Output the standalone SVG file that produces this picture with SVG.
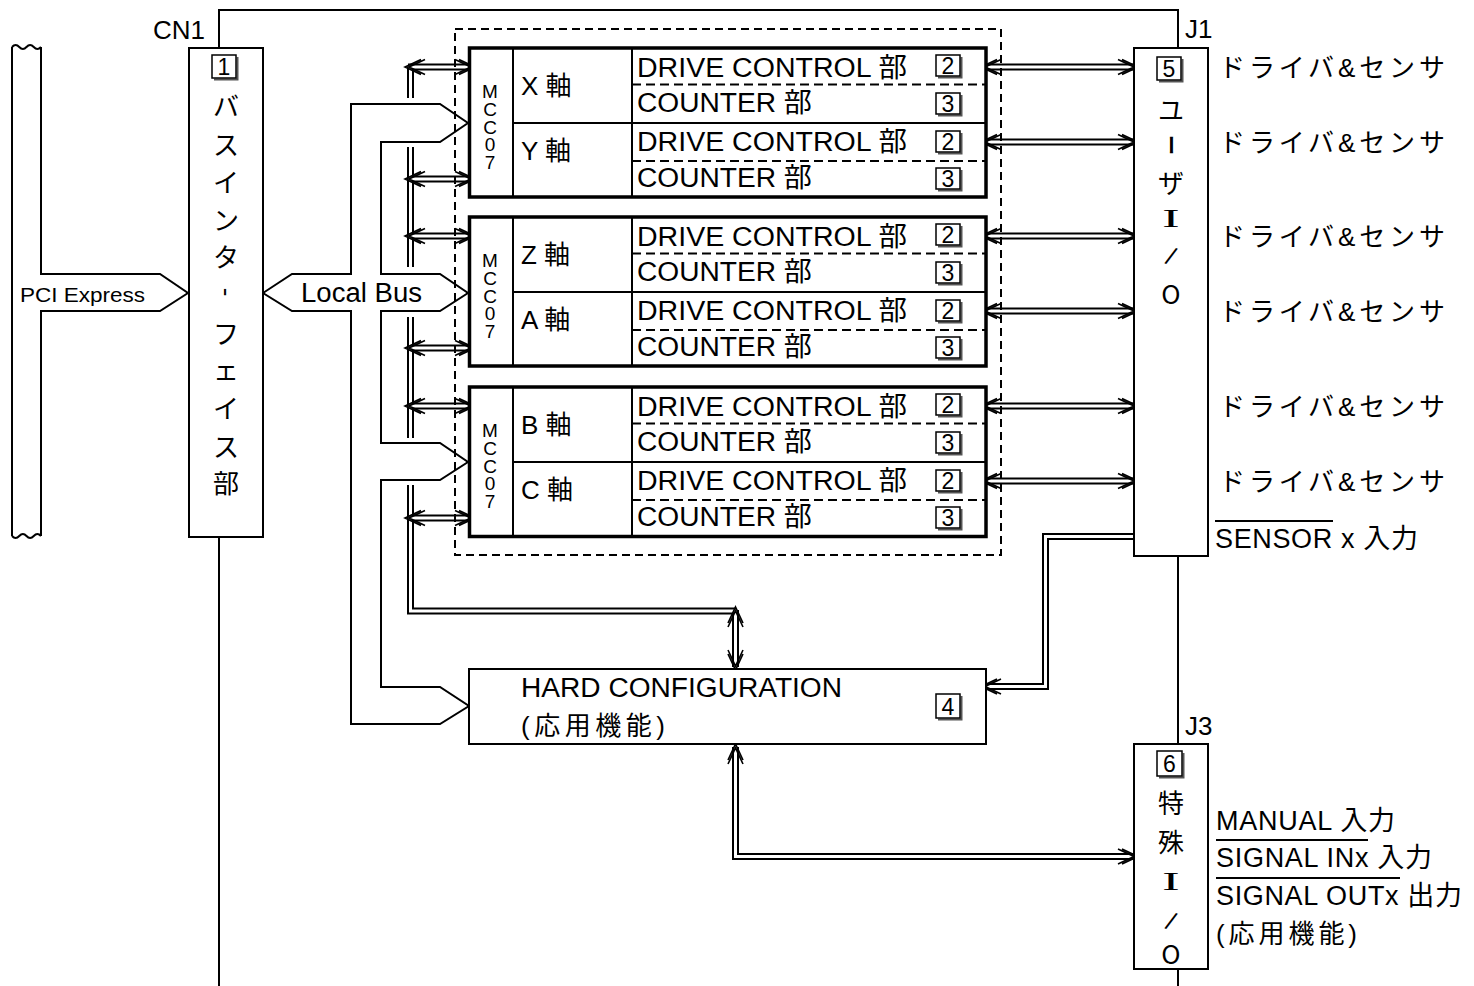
<svg xmlns="http://www.w3.org/2000/svg" width="1474" height="986" viewBox="0 0 1474 986">
<style>
.ln{fill:none;stroke:#000;stroke-width:2}
.bx{fill:#fff;stroke:#000;stroke-width:2}
.tk{fill:#fff;stroke:#000;stroke-width:3.5}
.dl{fill:none;stroke:#000;stroke-width:2;stroke-dasharray:9 5}
.dbB{fill:none;stroke:#000;stroke-width:7}
.dbW{fill:none;stroke:#fff;stroke-width:3}
.ah{fill:none;stroke:#000;stroke-width:1.6}
.sh{fill:none;stroke:#555;stroke-width:2}
.nb{fill:#fff;stroke:#000;stroke-width:1.5}
text{font-family:"Liberation Sans","Noto Sans CJK JP",sans-serif;font-size:26px;fill:#000}
.t27{font-size:27px}
.v{font-family:"Noto Sans CJK JP","Liberation Sans",sans-serif;text-anchor:middle;dominant-baseline:central}
.mcc{font-size:19px;writing-mode:vertical-rl;text-orientation:upright;letter-spacing:-3.2px}
.n{text-anchor:middle;font-size:23px}
.serifI{font-family:"Liberation Serif",serif;text-anchor:middle}
.sl{text-anchor:middle;font-size:25px}
</style>
<defs>
<path id="ah" class="ah" d="M-16,-7.5 L0,0 L-16,7.5 M-20,-7.5 L-4,0 L-20,7.5"/>
</defs>

<!-- connectors -->
<g id="connectors">
  <path class="ln" d="M219,48 V10 H1178 V48"/>
  <path class="ln" d="M219,537 V986"/>
  <path class="ln" d="M1178,556 V744"/>
  <path class="ln" d="M1178,969 V986"/>
  <!-- PCI Express bus -->
  <path class="ln" d="M12,47 V536"/>
  <path class="ln" d="M41,47 V274 H160 L188,293 L160,311 H41 V536"/>
  <path class="ln" d="M12,47 q3.6,-4 7.25,0 t7.25,0 t7.25,0 t7.25,0"/>
  <path class="ln" d="M12,536 q3.6,4 7.25,0 t7.25,0 t7.25,0 t7.25,0"/>
  <!-- Local bus -->
  <polygon class="ln" points="263,293 292,274 351,274 351,104 440,104 468,123 440,142 381,142 381,274 440,274 468,293 440,311 381,311 381,443 440,443 468,462 440,480 381,480 381,687 440,687 469,706 440,724 351,724 351,311 292,311"/>
  <!-- double line connectors -->
  <g id="dbl">
    <path class="dbB" d="M410.5,67 V98 M410.5,147 V267 M410.5,317 V438 M410.5,485 V611 H735.5"/>
    <path class="dbB" d="M408,67 H472 M408,179 H472 M408,236 H472 M408,348 H472 M408,406 H472 M408,518 H472"/>
    <path class="dbB" d="M984,67 H1135 M984,142 H1135 M984,236 H1135 M984,311 H1135 M984,406 H1135 M984,481 H1135"/>
    <path class="dbB" d="M735.5,610 V667"/>
    <path class="dbB" d="M735.5,747 V856.5 H1135"/>
    <path class="dbB" d="M1134,536.5 H1045.5 V686.5 H984"/>
    <path class="dbW" d="M410.5,67 V98 M410.5,147 V267 M410.5,317 V438 M410.5,485 V611 H735.5"/>
    <path class="dbW" d="M408,67 H472 M408,179 H472 M408,236 H472 M408,348 H472 M408,406 H472 M408,518 H472"/>
    <path class="dbW" d="M984,67 H1135 M984,142 H1135 M984,236 H1135 M984,311 H1135 M984,406 H1135 M984,481 H1135"/>
    <path class="dbW" d="M735.5,610 V667"/>
    <path class="dbW" d="M735.5,747 V856.5 H1135"/>
    <path class="dbW" d="M1134,536.5 H1045.5 V686.5 H984"/>
  </g>
  <g id="arrowheads">
    <use href="#ah" transform="translate(405,67) rotate(180)"/>
    <use href="#ah" transform="translate(475,67)"/>
    <use href="#ah" transform="translate(405,179) rotate(180)"/>
    <use href="#ah" transform="translate(475,179)"/>
    <use href="#ah" transform="translate(405,236) rotate(180)"/>
    <use href="#ah" transform="translate(475,236)"/>
    <use href="#ah" transform="translate(405,348) rotate(180)"/>
    <use href="#ah" transform="translate(475,348)"/>
    <use href="#ah" transform="translate(405,406) rotate(180)"/>
    <use href="#ah" transform="translate(475,406)"/>
    <use href="#ah" transform="translate(405,518) rotate(180)"/>
    <use href="#ah" transform="translate(475,518)"/>
    <use href="#ah" transform="translate(981,67) rotate(180)"/>
    <use href="#ah" transform="translate(1138,67)"/>
    <use href="#ah" transform="translate(981,142) rotate(180)"/>
    <use href="#ah" transform="translate(1138,142)"/>
    <use href="#ah" transform="translate(981,236) rotate(180)"/>
    <use href="#ah" transform="translate(1138,236)"/>
    <use href="#ah" transform="translate(981,311) rotate(180)"/>
    <use href="#ah" transform="translate(1138,311)"/>
    <use href="#ah" transform="translate(981,406) rotate(180)"/>
    <use href="#ah" transform="translate(1138,406)"/>
    <use href="#ah" transform="translate(981,481) rotate(180)"/>
    <use href="#ah" transform="translate(1138,481)"/>
    <use href="#ah" transform="translate(735.5,607) rotate(-90)"/>
    <use href="#ah" transform="translate(735.5,670) rotate(90)"/>
    <use href="#ah" transform="translate(735.5,744) rotate(-90)"/>
    <use href="#ah" transform="translate(1138,856.5)"/>
    <use href="#ah" transform="translate(981,686.5) rotate(180)"/>
  </g>
</g>

<!-- labels -->
<g id="labels">
  <text x="153" y="39">CN1</text>
  <text x="1185" y="38">J1</text>
  <text x="1185" y="735">J3</text>
  <text x="20" y="302" style="font-size:21px" textLength="125" lengthAdjust="spacingAndGlyphs">PCI Express</text>
  <text x="301" y="302" class="t27" textLength="121" lengthAdjust="spacingAndGlyphs">Local Bus</text>
  <text x="1219" y="77" textLength="226">ドライバ&amp;センサ</text>
  <text x="1219" y="152" textLength="226">ドライバ&amp;センサ</text>
  <text x="1219" y="246" textLength="226">ドライバ&amp;センサ</text>
  <text x="1219" y="321" textLength="226">ドライバ&amp;センサ</text>
  <text x="1219" y="416" textLength="226">ドライバ&amp;センサ</text>
  <text x="1219" y="491" textLength="226">ドライバ&amp;センサ</text>
  <line class="ln" x1="1215" y1="521" x2="1333" y2="521"/>
  <text x="1215" y="548" class="t27" textLength="203">SENSOR x 入力</text>
  <text x="1216" y="830" class="t27" textLength="179">MANUAL 入力</text>
  <line class="ln" x1="1216" y1="840" x2="1368" y2="840"/>
  <text x="1216" y="867" class="t27" textLength="216">SIGNAL INx 入力</text>
  <line class="ln" x1="1216" y1="878" x2="1400" y2="878"/>
  <text x="1216" y="905" class="t27" textLength="246">SIGNAL OUTx 出力</text>
  <text x="1216" y="943" textLength="141">(応用機能)</text>
</g>

<!-- dashed MCC07 area -->
<rect id="mcc-area" x="455" y="29" width="546" height="526" fill="none" stroke="#000" stroke-width="2" stroke-dasharray="8 5"/>

<!-- Node 1: bus interface -->
<g id="bus-interface">
  <rect class="bx" x="189" y="48" width="74" height="489"/>
  <g><path class="sh" d="M237.5,57 V79.5 H214"/><rect class="nb" x="212" y="55" width="24" height="23"/><text class="n" x="224" y="75">1</text></g>
  <text class="v" x="226" y="104">バ</text>
  <text class="v" x="226" y="143">ス</text>
  <text class="v" x="226" y="180">イ</text>
  <text class="v" x="226" y="218">ン</text>
  <text class="v" x="226" y="255">タ</text>
  <text x="226" y="300" text-anchor="middle" transform="rotate(90 226 292)">-</text>
  <text class="v" x="226" y="332">フ</text>
  <text class="v" x="226" y="368">ェ</text>
  <text class="v" x="226" y="406">イ</text>
  <text class="v" x="226" y="445">ス</text>
  <text class="v" x="226" y="481">部</text>
</g>

<!-- MCC07 X/Y -->
<g id="mcc-xy">
  <rect class="tk" x="469.5" y="48" width="516.5" height="149"/>
  <path class="ln" d="M513,48 V197 M632,48 V197 M513,123 H986"/>
  <path class="dl" d="M632,84.5 H986 M632,161 H986"/>
  <text class="mcc" x="490" y="81">MCC07</text>
  <text x="521" y="95">X 軸</text>
  <text x="521" y="160">Y 軸</text>
  <text x="637" y="77" class="t27" textLength="270" lengthAdjust="spacingAndGlyphs">DRIVE CONTROL 部</text>
  <text x="637" y="112" class="t27" textLength="175" lengthAdjust="spacingAndGlyphs">COUNTER 部</text>
  <text x="637" y="151" class="t27" textLength="270" lengthAdjust="spacingAndGlyphs">DRIVE CONTROL 部</text>
  <text x="637" y="187" class="t27" textLength="175" lengthAdjust="spacingAndGlyphs">COUNTER 部</text>
  <g><path class="sh" d="M961.5,57 V77.5 H938"/><rect class="nb" x="936" y="55" width="24" height="21"/><text class="n" x="948" y="74">2</text></g>
  <g><path class="sh" d="M961.5,95 V115.5 H938"/><rect class="nb" x="936" y="93" width="24" height="21"/><text class="n" x="948" y="112">3</text></g>
  <g><path class="sh" d="M961.5,133 V153.5 H938"/><rect class="nb" x="936" y="131" width="24" height="21"/><text class="n" x="948" y="150">2</text></g>
  <g><path class="sh" d="M961.5,170 V190.5 H938"/><rect class="nb" x="936" y="168" width="24" height="21"/><text class="n" x="948" y="187">3</text></g>
</g>

<!-- MCC07 Z/A -->
<g id="mcc-za">
  <rect class="tk" x="469.5" y="217" width="516.5" height="149"/>
  <path class="ln" d="M513,217 V366 M632,217 V366 M513,292 H986"/>
  <path class="dl" d="M632,253.5 H986 M632,330 H986"/>
  <text class="mcc" x="490" y="250">MCC07</text>
  <text x="521" y="264">Z 軸</text>
  <text x="521" y="329">A 軸</text>
  <text x="637" y="246" class="t27" textLength="270" lengthAdjust="spacingAndGlyphs">DRIVE CONTROL 部</text>
  <text x="637" y="281" class="t27" textLength="175" lengthAdjust="spacingAndGlyphs">COUNTER 部</text>
  <text x="637" y="320" class="t27" textLength="270" lengthAdjust="spacingAndGlyphs">DRIVE CONTROL 部</text>
  <text x="637" y="356" class="t27" textLength="175" lengthAdjust="spacingAndGlyphs">COUNTER 部</text>
  <g><path class="sh" d="M961.5,226 V246.5 H938"/><rect class="nb" x="936" y="224" width="24" height="21"/><text class="n" x="948" y="243">2</text></g>
  <g><path class="sh" d="M961.5,264 V284.5 H938"/><rect class="nb" x="936" y="262" width="24" height="21"/><text class="n" x="948" y="281">3</text></g>
  <g><path class="sh" d="M961.5,302 V322.5 H938"/><rect class="nb" x="936" y="300" width="24" height="21"/><text class="n" x="948" y="319">2</text></g>
  <g><path class="sh" d="M961.5,339 V359.5 H938"/><rect class="nb" x="936" y="337" width="24" height="21"/><text class="n" x="948" y="356">3</text></g>
</g>

<!-- MCC07 B/C -->
<g id="mcc-bc">
  <rect class="tk" x="469.5" y="387" width="516.5" height="149.5"/>
  <path class="ln" d="M513,387 V536.5 M632,387 V536.5 M513,462 H986"/>
  <path class="dl" d="M632,423.5 H986 M632,500 H986"/>
  <text class="mcc" x="490" y="420">MCC07</text>
  <text x="521" y="434">B 軸</text>
  <text x="521" y="499">C 軸</text>
  <text x="637" y="416" class="t27" textLength="270" lengthAdjust="spacingAndGlyphs">DRIVE CONTROL 部</text>
  <text x="637" y="451" class="t27" textLength="175" lengthAdjust="spacingAndGlyphs">COUNTER 部</text>
  <text x="637" y="490" class="t27" textLength="270" lengthAdjust="spacingAndGlyphs">DRIVE CONTROL 部</text>
  <text x="637" y="526" class="t27" textLength="175" lengthAdjust="spacingAndGlyphs">COUNTER 部</text>
  <g><path class="sh" d="M961.5,396 V416.5 H938"/><rect class="nb" x="936" y="394" width="24" height="21"/><text class="n" x="948" y="413">2</text></g>
  <g><path class="sh" d="M961.5,434 V454.5 H938"/><rect class="nb" x="936" y="432" width="24" height="21"/><text class="n" x="948" y="451">3</text></g>
  <g><path class="sh" d="M961.5,472 V492.5 H938"/><rect class="nb" x="936" y="470" width="24" height="21"/><text class="n" x="948" y="489">2</text></g>
  <g><path class="sh" d="M961.5,509 V529.5 H938"/><rect class="nb" x="936" y="507" width="24" height="21"/><text class="n" x="948" y="526">3</text></g>
</g>

<!-- HARD CONFIGURATION -->
<g id="hard-config">
  <rect class="bx" x="469" y="669" width="517" height="75"/>
  <text x="521" y="697" class="t27" textLength="321" lengthAdjust="spacingAndGlyphs">HARD CONFIGURATION</text>
  <text x="521" y="735" textLength="144">(応用機能)</text>
  <g><path class="sh" d="M961.5,696 V719.5 H938"/><rect class="nb" x="936" y="694" width="24" height="24"/><text class="n" x="948" y="715">4</text></g>
</g>

<!-- J1 user I/O -->
<g id="user-io">
  <rect class="bx" x="1134" y="48" width="74" height="508"/>
  <g><path class="sh" d="M1182.5,59 V81.5 H1159"/><rect class="nb" x="1157" y="57" width="24" height="23"/><text class="n" x="1169" y="77">5</text></g>
  <text class="v" x="1171" y="108">ユ</text>
  <text class="v" x="1171" y="145" style="font-size:20px;font-weight:bold" transform="rotate(90 1171 145)">ー</text>
  <text class="v" x="1171" y="181">ザ</text>
  <text class="serifI" x="0" y="0" transform="translate(1171,227) scale(2,1)">I</text>
  <text class="sl" x="1171" y="265" transform="rotate(22 1171 256)">/</text>
  <text class="v" x="1171" y="292">O</text>
</g>

<!-- J3 special I/O -->
<g id="special-io">
  <rect class="bx" x="1134" y="744" width="74" height="225"/>
  <g><path class="sh" d="M1183.5,753 V777.5 H1159"/><rect class="nb" x="1157" y="751" width="25" height="25"/><text class="n" x="1169.5" y="772">6</text></g>
  <text class="v" x="1171" y="801">特</text>
  <text class="v" x="1171" y="840">殊</text>
  <text class="serifI" x="0" y="0" transform="translate(1171,890) scale(2,1)">I</text>
  <text class="sl" x="1171" y="930" transform="rotate(22 1171 921)">/</text>
  <text class="v" x="1171" y="952">O</text>
</g>
</svg>
